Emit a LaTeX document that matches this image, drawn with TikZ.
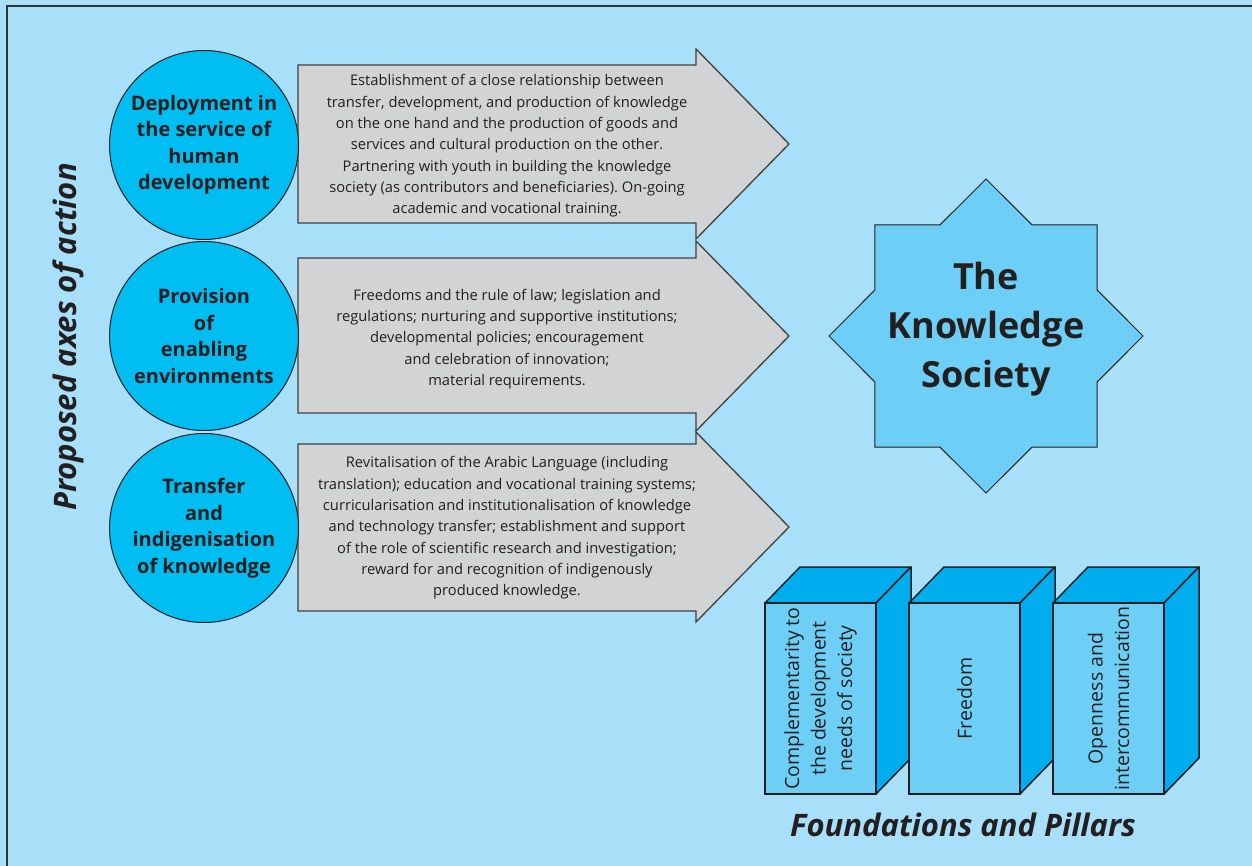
\documentclass[tikz,border=0pt]{standalone}
\usepackage{fontspec}
\setmainfont{Open Sans}
\usetikzlibrary{shapes.geometric}
\frenchspacing
\definecolor{bgblue}{RGB}{168,224,250}
\definecolor{axisblue}{RGB}{0,189,242}
\definecolor{paleblue}{RGB}{109,207,246}
\definecolor{deepblue}{RGB}{0,174,239}
\definecolor{boxgray}{RGB}{209,211,212}
\definecolor{inkdark}{RGB}{35,31,32}
\tikzset{
  axis circle/.style={circle,draw=inkdark,fill=axisblue,line width=1pt,
    minimum size=189,inner sep=0pt,align=center,text=inkdark,
    font=\fontsize{20}{26.5}\selectfont\bfseries},
  gray arrow/.style={draw=black!75,fill=boxgray,line width=1.3pt,line join=miter},
  arrow text/.style={align=center,text=inkdark,font=\fontsize{14.7}{21.3}\selectfont},
  pillar face/.style={draw=inkdark,fill=deepblue,line width=1.5pt,line join=round},
  pillar front/.style={rectangle,draw=inkdark,fill=paleblue,line width=1.5pt,
    rotate=90,minimum width=191,minimum height=111,inner sep=0pt,align=center,
    text=inkdark,font=\fontsize{19.5}{26.5}\selectfont},
  big title/.style={text=inkdark,font=\fontsize{31}{36}\selectfont\bfseries\itshape}
}
% shaft top, shaft bottom, tip
\newcommand{\axarrow}[3]{
  \draw[gray arrow] (298,#1) -- (696,#1) -- (696,#3-95) -- (789,#3)
       -- (696,#3+95) -- (696,#2) -- (298,#2) -- cycle;
}
% text, left edge, name
\newcommand{\pillar}[3]{
  \draw[pillar face] (#2,603) -- ++(35,-36) -- ++(111,0) -- ++(-35,36) -- cycle;
  \draw[pillar face] (#2+111,603) -- ++(35,-36) -- ++(0,191) -- ++(-35,36) -- cycle;
  \draw (#2+55.5,698.5) node[pillar front] (#3) {#1};
}

\begin{document}
\begin{tikzpicture}[x=1pt,y=-1pt]
 \useasboundingbox (0,0) rectangle (1252,866);
 \fill[bgblue] (0,0) rectangle (1252,866);
 \draw[black!80,line width=2pt] (6.5,866) -- (6.5,6.5) -- (1252,6.5);

 \draw (68,337) node[big title,rotate=90] (axes) {Proposed axes of action};

 \axarrow{65}{223}{144}
 \axarrow{258}{413}{336}
 \axarrow{444}{611}{527}

 \draw (204,145) node[axis circle] (deploy)
              {Deployment in\\the service of\\human\\development};
 \draw (204,336) node[axis circle] (provide)
              {Provision\\of\\enabling\\environments};
 \draw (204,528) node[axis circle] (transfer)
              {Transfer\\and\\indigenisation\\of knowledge};

 \draw (507,146) node[arrow text] (deploytxt)
              {Establishment of a close relationship between\\
               transfer, development, and production of knowledge\\
               on the one hand and the production of goods and\\
               services and cultural production on the other.\\
               Partnering with youth in building the knowledge\\
               society (as contributors and beneficiaries). On-going\\
               academic and vocational training.};
 \draw (507,339) node[arrow text] (providetxt)
              {Freedoms and the rule of law; legislation and\\
               regulations; nurturing and supportive institutions;\\
               developmental policies; encouragement\\
               and celebration of innovation;\\
               material requirements.};
 \draw (507,528) node[arrow text] (transfertxt)
              {Revitalisation of the Arabic Language (including\\
               translation); education and vocational training systems;\\
               curricularisation and institutionalisation of knowledge\\
               and technology transfer; establishment and support\\
               of the role of scientific research and investigation;\\
               reward for and recognition of indigenously\\
               produced knowledge.};

 \draw (986,336) node[star,star points=8,star point ratio=1.306,minimum size=314,
              inner sep=0pt,draw=inkdark,fill=paleblue,line width=1pt] (society) {};
 \draw (986,329) node[align=center,text=inkdark,
              font=\fontsize{36}{49}\selectfont\bfseries] (societytxt)
              {The\\Knowledge\\Society};

 \pillar{Complementarity to\\the development\\needs of society}{765}{compl}
 \pillar{Freedom}{909}{freedom}
 \pillar{Openness and\\intercommunication}{1053}{open}

 \draw (963,825) node[big title] (found) {Foundations and Pillars};
\end{tikzpicture}
\end{document}
